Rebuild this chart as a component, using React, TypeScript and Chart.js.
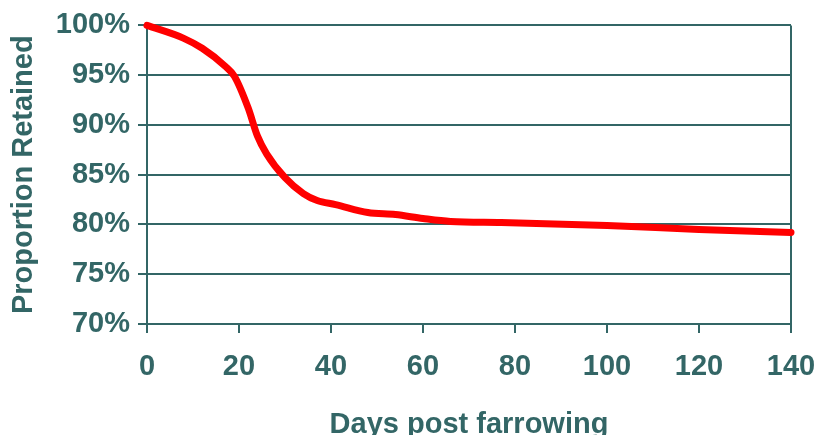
import { useEffect, useRef } from "react";
import Chart from "chart.js/auto";
import type { Chart as ChartInstance } from "chart.js";

// days after farrowing and share of sows still in the herd (%)
const days = [0, 8, 12, 17, 19, 22, 24, 26, 30, 34, 37, 41, 48, 54, 60, 66, 77, 100, 120, 140];
const retained = [100, 98.7, 97.7, 95.9, 94.9, 91.7, 88.9, 87.1, 84.7, 83.1, 82.4, 82.0, 81.2, 81.0, 80.6, 80.3, 80.2, 79.9, 79.5, 79.2];

const yTitle = "Proportion Retained";
const xTitle = "Days post farrowing";

const TEAL = "#336666";
const FONT = "'Liberation Sans', Arial, sans-serif";

export default function App() {
    const canvasRef = useRef<HTMLCanvasElement>(null);
    const chartRef = useRef<ChartInstance | null>(null);

    useEffect(() => {
        if (!canvasRef.current) return;
        const ctx = canvasRef.current.getContext("2d");
        if (!ctx) return;

        chartRef.current = new Chart(ctx, {
            type: "line",
            data: {
                datasets: [
                    {
                        label: yTitle,
                        data: days.map((d, i) => ({ x: d, y: retained[i] })),
                        borderColor: "#ff0000",
                        borderWidth: 7,
                        borderCapStyle: "round",
                        borderJoinStyle: "round",
                        cubicInterpolationMode: "monotone",
                        pointRadius: 0,
                        fill: false,
                        clip: 10,
                    },
                ],
            },
            options: {
                animation: false,
                responsive: true,
                maintainAspectRatio: false,
                layout: { padding: { top: 24, right: 25, left: 0, bottom: 0 } },
                scales: {
                    x: {
                        type: "linear",
                        min: 0,
                        max: 140,
                        afterFit: (s: any) => {
                            s.height = 111;
                            // let the layout padding alone decide the plot's right edge
                            s.paddingLeft = 0;
                            s.paddingRight = 0;
                        },
                        ticks: {
                            stepSize: 20,
                            color: TEAL,
                            padding: 17,
                            font: { family: FONT, size: 29, weight: "bold" },
                        },
                        grid: {
                            // only the right frame line shows inside the plot
                            color: (c: any) => (c.tick && c.tick.value === 140 ? TEAL : "rgba(0,0,0,0)"),
                            tickColor: TEAL,
                            tickLength: 9,
                            lineWidth: 2,
                        },
                        border: { color: TEAL, width: 2 },
                        title: {
                            display: true,
                            text: xTitle,
                            color: TEAL,
                            padding: { top: 0, bottom: -4 },
                            font: { family: FONT, size: 29, weight: "bold", lineHeight: 1 },
                        },
                    },
                    y: {
                        min: 70,
                        max: 100,
                        afterFit: (s: any) => { s.width = 147; },
                        ticks: {
                            stepSize: 5,
                            color: TEAL,
                            padding: 8,
                            callback: (v: any) => v + "%",
                            font: { family: FONT, size: 29, weight: "bold" },
                        },
                        grid: {
                            color: TEAL,
                            tickColor: TEAL,
                            tickLength: 9,
                            lineWidth: 2,
                        },
                        border: { color: TEAL, width: 2 },
                        title: {
                            display: true,
                            text: yTitle,
                            color: TEAL,
                            padding: { top: 7, bottom: 0 },
                            font: { family: FONT, size: 29, weight: "bold" },
                        },
                    },
                },
                plugins: {
                    legend: { display: false },
                    tooltip: { enabled: false },
                },
            },
        });

        return () => {
            if (chartRef.current) {
                chartRef.current.destroy();
            }
        };
    }, []);

    return (
        <div style={{ position: "fixed", left: 0, top: 0, width: 816, height: 435, background: "#fff" }}>
            <canvas ref={canvasRef} />
        </div>
    );
}
